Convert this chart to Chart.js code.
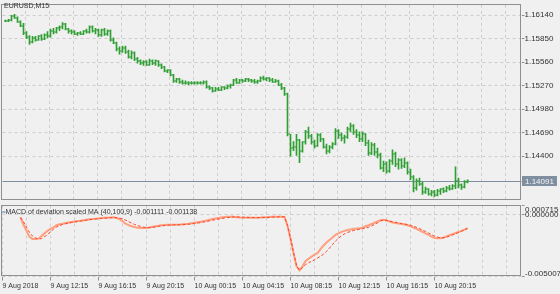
<!DOCTYPE html>
<html>
<head>
<meta charset="utf-8">
<script src="https://cdn.jsdelivr.net/npm/chart.js@4.4.1/dist/chart.umd.min.js"></script>
<style>
  html, body { margin: 0; padding: 0; background: #f0f0f0; }
  #wrap { position: relative; width: 560px; height: 294px; overflow: hidden; }
  #priceChart { position: absolute; left: 0; top: 0; }
  #macdChart { position: absolute; left: 0; top: 190px; }
</style>
</head>
<body>
<div id="wrap">
  <canvas id="priceChart" width="560" height="206"></canvas>
  <canvas id="macdChart" width="560" height="104"></canvas>
</div>
<script>
// EURUSD M15, 155 bars starting 9 Aug 2018 08:30
const symbolLabel = 'EURUSD,M15';
const indicatorName = 'MACD of deviation scaled MA (40,100,9)';

const opens = [
  1.1607,1.1607,1.1608,1.1613,1.1611,1.1606,1.1601,1.1592,1.1587,1.1581,
  1.1586,1.1584,1.1588,1.1585,1.1590,1.1588,1.1595,1.1593,1.1598,1.1599,
  1.1603,1.1597,1.1594,1.1593,1.1591,1.1592,1.1591,1.1594,1.1593,1.1600,
  1.1595,1.1596,1.1590,1.1596,1.1591,1.1595,1.1584,1.1580,1.1572,1.1570,
  1.1574,1.1569,1.1563,1.1567,1.1560,1.1557,1.1555,1.1556,1.1553,1.1558,
  1.1555,1.1557,1.1552,1.1550,1.1545,1.1546,1.1540,1.1533,1.1535,1.1532,
  1.1531,1.1530,1.1531,1.1530,1.1531,1.1530,1.1531,1.1532,1.1526,1.1524,
  1.1521,1.1523,1.1522,1.1525,1.1524,1.1527,1.1528,1.1534,1.1531,1.1534,
  1.1533,1.1535,1.1534,1.1533,1.1532,1.1533,1.1537,1.1535,1.1536,1.1534,
  1.1532,1.1533,1.1528,1.1524,1.1517,1.1467,1.1450,1.1452,1.1460,1.1446,
  1.1457,1.1470,1.1465,1.1458,1.1453,1.1466,1.1461,1.1452,1.1446,1.1451,
  1.1455,1.1471,1.1466,1.1462,1.1464,1.1474,1.1477,1.1470,1.1466,1.1461,
  1.1467,1.1456,1.1444,1.1454,1.1445,1.1442,1.1426,1.1431,1.1422,1.1434,
  1.1443,1.1430,1.1435,1.1428,1.1432,1.1421,1.1414,1.1401,1.1409,1.1406,
  1.1396,1.1399,1.1394,1.1396,1.1392,1.1397,1.1399,1.1397,1.1401,1.1400,
  1.1403,1.1409,1.1405,1.1402,1.1408
];
const highs = [
  1.1608,1.1609,1.1614,1.1615,1.1612,1.1607,1.1604,1.1594,1.1589,1.1588,
  1.1588,1.1589,1.1590,1.1591,1.1594,1.1597,1.1598,1.1599,1.1601,1.1605,
  1.1604,1.1598,1.1596,1.1595,1.1593,1.1594,1.1595,1.1597,1.1601,1.1601,
  1.1598,1.1597,1.1597,1.1598,1.1596,1.1596,1.1586,1.1581,1.1575,1.1576,
  1.1576,1.1571,1.1570,1.1569,1.1562,1.1559,1.1558,1.1558,1.1560,1.1559,
  1.1559,1.1558,1.1554,1.1551,1.1547,1.1547,1.1541,1.1536,1.1536,1.1534,
  1.1533,1.1532,1.1532,1.1532,1.1532,1.1532,1.1533,1.1533,1.1527,1.1525,
  1.1525,1.1525,1.1526,1.1526,1.1528,1.1529,1.1535,1.1536,1.1535,1.1535,
  1.1536,1.1536,1.1535,1.1535,1.1534,1.1538,1.1539,1.1537,1.1537,1.1536,
  1.1535,1.1534,1.1530,1.1525,1.1518,1.1467,1.1458,1.1467,1.1461,1.1458,
  1.1472,1.1476,1.1467,1.1460,1.1468,1.1468,1.1462,1.1455,1.1453,1.1457,
  1.1474,1.1473,1.1469,1.1466,1.1476,1.1481,1.1479,1.1473,1.1470,1.1470,
  1.1468,1.1460,1.1457,1.1456,1.1450,1.1444,1.1434,1.1433,1.1436,1.1448,
  1.1445,1.1437,1.1437,1.1438,1.1433,1.1424,1.1416,1.1412,1.1413,1.1408,
  1.1402,1.1400,1.1398,1.1398,1.1399,1.1400,1.1401,1.1403,1.1404,1.1405,
  1.1427,1.1413,1.1406,1.1410,1.1411
];
const lows = [
  1.1606,1.1606,1.1607,1.1610,1.1605,1.1600,1.1590,1.1585,1.1578,1.1580,
  1.1582,1.1583,1.1583,1.1584,1.1586,1.1587,1.1591,1.1592,1.1595,1.1597,
  1.1596,1.1592,1.1591,1.1590,1.1589,1.1590,1.1590,1.1592,1.1592,1.1593,
  1.1591,1.1588,1.1588,1.1589,1.1589,1.1582,1.1579,1.1570,1.1566,1.1568,
  1.1567,1.1561,1.1560,1.1558,1.1555,1.1553,1.1552,1.1552,1.1552,1.1553,
  1.1552,1.1551,1.1548,1.1544,1.1543,1.1539,1.1531,1.1531,1.1530,1.1529,
  1.1529,1.1528,1.1529,1.1529,1.1529,1.1529,1.1529,1.1524,1.1522,1.1519,
  1.1520,1.1521,1.1521,1.1522,1.1523,1.1524,1.1527,1.1530,1.1530,1.1531,
  1.1532,1.1532,1.1531,1.1530,1.1530,1.1532,1.1534,1.1533,1.1532,1.1531,
  1.1531,1.1527,1.1522,1.1515,1.1465,1.1440,1.1447,1.1441,1.1432,1.1445,
  1.1455,1.1462,1.1455,1.1450,1.1452,1.1458,1.1450,1.1443,1.1444,1.1449,
  1.1454,1.1462,1.1459,1.1456,1.1462,1.1470,1.1467,1.1463,1.1458,1.1458,
  1.1453,1.1441,1.1442,1.1441,1.1438,1.1424,1.1421,1.1419,1.1420,1.1430,
  1.1427,1.1424,1.1425,1.1426,1.1418,1.1411,1.1396,1.1398,1.1404,1.1393,
  1.1394,1.1392,1.1391,1.1390,1.1391,1.1393,1.1395,1.1396,1.1398,1.1399,
  1.1400,1.1401,1.1399,1.1401,1.1407
];
const closes = [
  1.1607,1.1608,1.1613,1.1611,1.1606,1.1601,1.1592,1.1587,1.1581,1.1586,
  1.1584,1.1588,1.1585,1.1590,1.1588,1.1595,1.1593,1.1598,1.1599,1.1603,
  1.1597,1.1594,1.1593,1.1591,1.1592,1.1591,1.1594,1.1593,1.1600,1.1595,
  1.1596,1.1590,1.1596,1.1591,1.1595,1.1584,1.1580,1.1572,1.1570,1.1574,
  1.1569,1.1563,1.1567,1.1560,1.1557,1.1555,1.1556,1.1553,1.1558,1.1555,
  1.1557,1.1552,1.1550,1.1545,1.1546,1.1540,1.1533,1.1535,1.1532,1.1531,
  1.1530,1.1531,1.1530,1.1531,1.1530,1.1531,1.1532,1.1526,1.1524,1.1521,
  1.1523,1.1522,1.1525,1.1524,1.1527,1.1528,1.1534,1.1531,1.1534,1.1533,
  1.1535,1.1534,1.1533,1.1532,1.1533,1.1537,1.1535,1.1536,1.1534,1.1532,
  1.1533,1.1528,1.1524,1.1517,1.1467,1.1450,1.1452,1.1460,1.1446,1.1457,
  1.1470,1.1465,1.1458,1.1453,1.1466,1.1461,1.1452,1.1446,1.1451,1.1455,
  1.1471,1.1466,1.1462,1.1464,1.1474,1.1477,1.1470,1.1466,1.1461,1.1467,
  1.1456,1.1444,1.1454,1.1445,1.1442,1.1426,1.1431,1.1422,1.1434,1.1443,
  1.1430,1.1435,1.1428,1.1432,1.1421,1.1414,1.1401,1.1409,1.1406,1.1396,
  1.1399,1.1394,1.1396,1.1392,1.1397,1.1399,1.1397,1.1401,1.1400,1.1403,
  1.1409,1.1405,1.1402,1.1408,1.14091
];

const macdMain = [
  null,null,null,null,null,-0.000241,-0.000837,-0.001328,-0.001818,-0.001981,
  -0.001981,-0.001957,-0.001736,-0.001532,-0.001328,-0.001164,-0.001042,-0.000878,-0.000796,-0.000756,
  -0.000698,-0.000658,-0.000617,-0.000576,-0.000543,-0.000511,-0.000470,-0.000429,-0.000388,-0.000363,
  -0.000347,-0.000323,-0.000298,-0.000282,-0.000265,-0.000249,-0.000241,-0.000290,-0.000388,-0.000551,
  -0.000739,-0.000862,-0.000960,-0.001025,-0.001082,-0.001099,-0.001107,-0.001091,-0.001050,-0.001001,
  -0.000952,-0.000919,-0.000886,-0.000862,-0.000845,-0.000837,-0.000837,-0.000837,-0.000837,-0.000805,
  -0.000780,-0.000756,-0.000715,-0.000674,-0.000633,-0.000592,-0.000543,-0.000494,-0.000429,-0.000372,
  -0.000331,-0.000290,-0.000249,-0.000216,-0.000192,-0.000184,-0.000200,-0.000225,-0.000249,-0.000265,
  -0.000265,-0.000265,-0.000265,-0.000265,-0.000265,-0.000257,-0.000241,-0.000225,-0.000208,-0.000192,
  -0.000184,-0.000184,-0.000184,-0.000208,-0.000919,-0.001981,-0.003125,-0.004187,-0.004514,-0.004187,
  -0.003779,-0.003574,-0.003411,-0.003247,-0.003125,-0.002798,-0.002512,-0.002267,-0.002063,-0.001859,
  -0.001654,-0.001532,-0.001409,-0.001328,-0.001262,-0.001213,-0.001164,-0.001148,-0.001123,-0.001082,
  -0.000960,-0.000878,-0.000780,-0.000674,-0.000576,-0.000470,-0.000429,-0.000494,-0.000576,-0.000649,
  -0.000690,-0.000739,-0.000780,-0.000821,-0.000878,-0.000960,-0.001066,-0.001164,-0.001287,-0.001409,
  -0.001532,-0.001654,-0.001801,-0.001899,-0.001916,-0.001916,-0.001883,-0.001777,-0.001671,-0.001589,
  -0.001507,-0.001426,-0.001328,-0.001229,-0.001111
];
const macdSignal = [
  null,null,null,null,null,-0.000241,-0.000600,-0.001050,-0.001450,-0.001750,
  -0.001900,-0.001970,-0.001960,-0.001800,-0.001650,-0.001400,-0.001200,-0.001020,-0.000900,-0.000820,
  -0.000760,-0.000710,-0.000660,-0.000620,-0.000580,-0.000545,-0.000505,-0.000470,-0.000435,-0.000405,
  -0.000380,-0.000355,-0.000330,-0.000310,-0.000290,-0.000275,-0.000265,-0.000270,-0.000300,-0.000360,
  -0.000460,-0.000580,-0.000700,-0.000810,-0.000900,-0.000970,-0.001030,-0.001060,-0.001070,-0.001050,
  -0.001010,-0.000970,-0.000930,-0.000900,-0.000875,-0.000855,-0.000845,-0.000840,-0.000838,-0.000830,
  -0.000815,-0.000795,-0.000770,-0.000740,-0.000705,-0.000665,-0.000620,-0.000575,-0.000525,-0.000470,
  -0.000420,-0.000375,-0.000335,-0.000295,-0.000260,-0.000235,-0.000215,-0.000210,-0.000215,-0.000225,
  -0.000235,-0.000245,-0.000252,-0.000258,-0.000262,-0.000262,-0.000258,-0.000250,-0.000240,-0.000228,
  -0.000216,-0.000205,-0.000196,-0.000192,-0.000900,-0.001900,-0.003050,-0.004100,-0.004500,-0.004300,
  -0.004050,-0.003900,-0.003780,-0.003650,-0.003520,-0.003380,-0.003200,-0.002980,-0.002720,-0.002430,
  -0.002150,-0.001920,-0.001730,-0.001580,-0.001460,-0.001370,-0.001300,-0.001250,-0.001200,-0.001150,
  -0.001110,-0.001040,-0.000930,-0.000810,-0.000680,-0.000540,-0.000460,-0.000480,-0.000530,-0.000590,
  -0.000640,-0.000690,-0.000735,-0.000775,-0.000820,-0.000880,-0.000960,-0.001050,-0.001150,-0.001260,
  -0.001380,-0.001500,-0.001630,-0.001750,-0.001840,-0.001880,-0.001880,-0.001830,-0.001750,-0.001660,
  -0.001560,-0.001460,-0.001360,-0.001250,-0.001138
];

// axis ticks
const priceTicks = [1.16140, 1.15850, 1.15560, 1.15270, 1.14980, 1.14690, 1.14400];
const macdTicks = [0.000715, 0, -0.005007];
const timeTicks = ['9 Aug 2018', '9 Aug 12:15', '9 Aug 16:15', '9 Aug 20:15', '10 Aug 00:15',
  '10 Aug 04:15', '10 Aug 08:15', '10 Aug 12:15', '10 Aug 16:15', '10 Aug 20:15'];

// 174 slots of 15 min from 9 Aug 08:15 (slot 0 is empty, bars fill 1..155)
const slotCount = 174;
const barTimes = [];
for (let i = 0; i < slotCount; i++) {
    const m = 8 * 60 + 15 + i * 15;
    const d = 9 + Math.floor(m / 1440);
    const hh = String(Math.floor((m % 1440) / 60)).padStart(2, '0');
    const mm = String(m % 60).padStart(2, '0');
    barTimes.push(`${d} Aug ${hh}:${mm}`);
}

const FONT = "'Liberation Sans Narrow', 'Liberation Sans', sans-serif";
const textColor = '#333333';
const gridColor = '#cdcdcd';
const frameColor = '#8f8f8f';
const barColor = '#2f9e33';
const priceLineColor = '#7f8fa0';
const mainColor = '#ff9f7f';
const signalColor = '#ff4020';

Chart.defaults.font.family = FONT;
Chart.defaults.font.size = 7;
Chart.defaults.color = textColor;

// rectangle round the plot area
const frame = {
    id: 'frame',
    afterDraw(chart) {
        const { ctx, chartArea: a } = chart;
        ctx.save();
        ctx.strokeStyle = frameColor;
        ctx.lineWidth = 1;
        ctx.strokeRect(Math.floor(a.left) - 0.5, Math.floor(a.top) + 0.5,
            Math.round(a.right - a.left), Math.round(a.bottom - a.top) - 1);
        ctx.restore();
    }
};

// open tick left, close tick right of each high-low bar
const ohlcTicks = {
    id: 'ohlcTicks',
    afterDatasetsDraw(chart) {
        const { ctx, scales: { x, y } } = chart;
        ctx.save();
        ctx.fillStyle = barColor;
        opens.forEach((o, i) => {
            const cx = Math.floor(x.getPixelForValue(i + 1));
            ctx.fillRect(cx - 1, Math.round(y.getPixelForValue(o)) - 0.5, 1, 1);
            ctx.fillRect(cx + 1, Math.round(y.getPixelForValue(closes[i])) - 0.5, 1, 1);
        });
        ctx.restore();
    }
};

// last price line and its boxed label
const lastPrice = {
    id: 'lastPrice',
    beforeDatasetsDraw(chart) {
        const { ctx, chartArea: a, scales: { y } } = chart;
        const py = Math.round(y.getPixelForValue(closes[closes.length - 1])) + 0.5;
        ctx.save();
        ctx.strokeStyle = priceLineColor;
        ctx.lineWidth = 1;
        ctx.beginPath();
        ctx.moveTo(a.left, py);
        ctx.lineTo(a.right, py);
        ctx.stroke();
        ctx.restore();
    },
    afterDraw(chart) {
        const { ctx, chartArea: a, scales: { y } } = chart;
        const last = closes[closes.length - 1];
        const py = Math.round(y.getPixelForValue(last));
        const txt = last.toFixed(5);
        ctx.save();
        ctx.font = `8px ${FONT}`;
        const w = Math.ceil(ctx.measureText(txt).width) + 6;
        ctx.fillStyle = priceLineColor;
        ctx.fillRect(a.right + 0.5, py - 5, w, 10);
        ctx.fillStyle = '#f4f4f4';
        ctx.textBaseline = 'middle';
        ctx.fillText(txt, a.right + 3.5, py + 0.5);
        ctx.restore();
    }
};

const symbolTitle = {
    id: 'symbolTitle',
    afterDraw(chart) {
        const { ctx } = chart;
        ctx.save();
        ctx.fillStyle = textColor;
        ctx.font = `7px ${FONT}`;
        ctx.textBaseline = 'middle';
        ctx.fillText(symbolLabel, 4, 6.5);
        ctx.restore();
    }
};

const macdTitle = {
    id: 'macdTitle',
    afterDraw(chart) {
        const { ctx, chartArea: a } = chart;
        const lastMain = macdMain[macdMain.length - 1];
        const lastSignal = macdSignal[macdSignal.length - 1];
        ctx.save();
        ctx.fillStyle = '#3070d0';
        ctx.fillRect(a.left, a.top + 6, 3, 1);
        ctx.fillStyle = textColor;
        ctx.font = `7px ${FONT}`;
        ctx.textBaseline = 'middle';
        ctx.fillText(`${indicatorName} ${lastMain.toFixed(6)} ${lastSignal.toFixed(6)}`, a.left + 3, a.top + 7);
        ctx.restore();
    }
};

// indicator scale labels, pushed inside the panel at its edges
const macdAxisLabels = {
    id: 'macdAxisLabels',
    afterDraw(chart) {
        const { ctx, chartArea: a, scales: { y } } = chart;
        ctx.save();
        ctx.fillStyle = textColor;
        ctx.font = `8px ${FONT}`;
        ctx.textBaseline = 'middle';
        macdTicks.forEach(v => {
            const py = Math.min(Math.max(y.getPixelForValue(v), a.top + 4), a.bottom - 2.5);
            ctx.fillText(v.toFixed(6), a.right + 3.5, py);
        });
        ctx.restore();
    }
};

const xGrid = c => (c.index % 8 === 0 ? gridColor : 'rgba(0,0,0,0)');

// 1. Price panel
new Chart(document.getElementById('priceChart'), {
    type: 'bar',
    data: {
        labels: barTimes,
        datasets: [{
            data: [null].concat(lows.map((l, i) => [l, highs[i]])),
            backgroundColor: barColor,
            barThickness: 1,
            borderWidth: 0
        }]
    },
    options: {
        responsive: false,
        animation: false,
        layout: { padding: { left: 2.5, top: 1.5, right: 0, bottom: 0 } },
        plugins: { legend: { display: false }, tooltip: { enabled: false } },
        scales: {
            x: {
                offset: false,
                grid: { color: xGrid, drawTicks: false },
                border: { display: false, dash: [3, 3] },
                ticks: { display: false, autoSkip: false },
                afterFit: s => { s.height = 3.5; }
            },
            y: {
                position: 'right',
                min: 1.13845,
                max: 1.16269,
                afterBuildTicks: s => { s.ticks = priceTicks.map(v => ({ value: v })); },
                grid: { color: gridColor, tickColor: frameColor, tickLength: 3 },
                border: { display: false, dash: [3, 3] },
                ticks: { callback: v => v.toFixed(5), padding: 0, color: textColor, font: { size: 8 } },
                afterFit: s => { s.width = 38.5; }
            }
        }
    },
    plugins: [lastPrice, ohlcTicks, frame, symbolTitle]
});

// 2. MACD panel
new Chart(document.getElementById('macdChart'), {
    type: 'line',
    data: {
        labels: barTimes,
        datasets: [
            {
                data: [null].concat(macdSignal),
                borderColor: signalColor,
                borderWidth: 1,
                borderDash: [3, 2],
                pointRadius: 0,
                tension: 0
            },
            {
                data: [null].concat(macdMain),
                borderColor: mainColor,
                borderWidth: 2,
                pointRadius: 0,
                tension: 0
            }
        ]
    },
    options: {
        responsive: false,
        animation: false,
        layout: { padding: { left: 2.5, top: 15.5, right: 0, bottom: 0 } },
        plugins: { legend: { display: false }, tooltip: { enabled: false } },
        scales: {
            x: {
                offset: false,
                grid: {
                    color: xGrid,
                    tickColor: c => (c.index % 16 === 0 && c.index / 16 < timeTicks.length ? frameColor : 'rgba(0,0,0,0)'),
                    tickLength: 4
                },
                border: { display: false, dash: [3, 3] },
                ticks: {
                    autoSkip: false,
                    maxRotation: 0,
                    minRotation: 0,
                    align: 'start',
                    padding: 1,
                    color: textColor,
                    font: { size: 7 },
                    callback: (v, i) => (i % 16 === 0 && i / 16 < timeTicks.length ? timeTicks[i / 16] : '')
                },
                afterFit: s => { s.height = 17.5; }
            },
            y: {
                position: 'right',
                min: macdTicks[2],
                max: macdTicks[0],
                afterBuildTicks: s => { s.ticks = macdTicks.map(v => ({ value: v })); },
                grid: { color: gridColor, tickColor: frameColor, tickLength: 3 },
                border: { display: false, dash: [3, 3] },
                ticks: { display: false },
                afterFit: s => { s.width = 38.5; }
            }
        }
    },
    plugins: [frame, macdTitle, macdAxisLabels]
});
</script>
</body>
</html>
